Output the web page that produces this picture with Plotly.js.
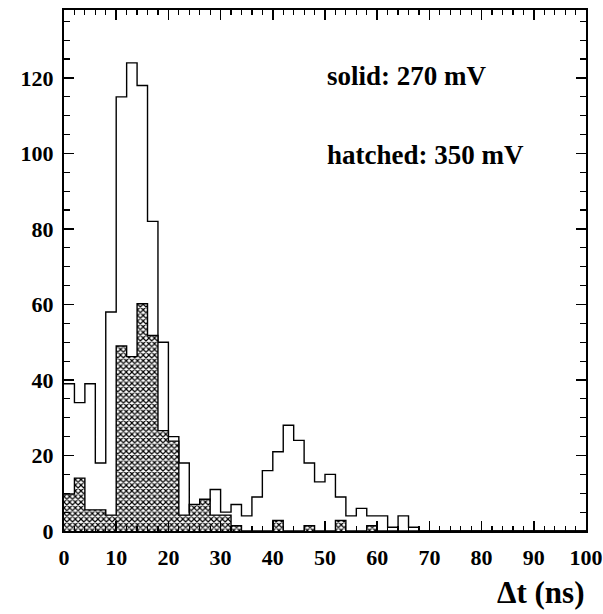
<!DOCTYPE html>
<html>
<head>
<meta charset="utf-8">
<script src="https://cdn.plot.ly/plotly-3.0.1.min.js"></script>
<style>html,body{margin:0;padding:0;background:#fff;}</style>
</head>
<body>
<div id="chart" style="width:603px;height:614px;"></div>
<script>
// Bin edges: 0..100 ns in 2 ns steps
const binWidth = 2;
const binEdges = Array.from({length: 51}, (_, i) => i * binWidth);

// solid: 270 mV (counts per 2 ns bin)
const solidCounts = [39, 34, 39, 18, 58, 115, 124, 118, 82, 50,
                     25, 18, 5, 8, 11, 5, 7, 4, 9, 16,
                     21, 28, 24, 18, 13, 15, 9, 4, 6, 4,
                     4, 1, 4, 1, 0, 0, 0, 0, 0, 0,
                     0, 0, 0, 0, 0, 0, 0, 0, 0, 0];

// hatched: 350 mV
const hatchedCounts = [9.8, 14.0, 5.6, 5.6, 4.2, 49.0, 46.2, 60.2, 51.8, 26.6,
                       23.8, 4.2, 7.0, 8.4, 4.2, 4.2, 1.4, 0, 0, 0,
                       2.8, 0, 0, 1.4, 0, 0, 2.8, 0, 0, 1.4,
                       0, 0, 0, 0, 0, 0, 0, 0, 0, 0,
                       0, 0, 0, 0, 0, 0, 0, 0, 0, 0];

const xTickVals = [0, 10, 20, 30, 40, 50, 60, 70, 80, 90, 100];
const yTickVals = [0, 20, 40, 60, 80, 100, 120];
const labels = {solid: "solid: 270 mV", hatched: "hatched: 350 mV", xTitle: "Δt (ns)"};

function stepY(counts) { return counts.concat([counts[counts.length - 1]]); }

const FONT = "Liberation Serif, Times New Roman, serif";

const traces = [
  {
    type: "scatter", mode: "lines", name: "solid",
    x: binEdges, y: stepY(solidCounts),
    line: {shape: "hv", color: "black", width: 1.4},
    hoverinfo: "skip", showlegend: false
  },
  {
    type: "scatter", mode: "lines", name: "hatched",
    x: binEdges, y: stepY(hatchedCounts),
    line: {shape: "hv", color: "black", width: 1.4},
    fill: "tozeroy",
    fillcolor: "white",
    fillpattern: {shape: "x", fgcolor: "black", bgcolor: "white", size: 4, solidity: 0.5, fillmode: "replace"},
    hoverinfo: "skip", showlegend: false
  }
];

const axisCommon = {
  showline: true, linecolor: "black", linewidth: 2, mirror: "allticks",
  ticks: "inside", tickcolor: "black", tickwidth: 1.5,
  showgrid: false, zeroline: false,
  tickfont: {family: FONT, size: 22, color: "black", weight: "bold"}
};

const layout = {
  width: 603, height: 614,
  margin: {l: 64, r: 17, t: 10, b: 83},
  paper_bgcolor: "white", plot_bgcolor: "white",
  showlegend: false,
  xaxis: Object.assign({}, axisCommon, {
    range: [0, 100], tickmode: "array", tickvals: xTickVals, ticktext: xTickVals.map(String),
    ticklen: 10, ticklabelstandoff: 6,
    minor: {ticks: "inside", ticklen: 5, dtick: 2, tickcolor: "black", tickwidth: 1.2, showgrid: false}
  }),
  yaxis: Object.assign({}, axisCommon, {
    range: [0, 138], tickmode: "array", tickvals: yTickVals, ticktext: yTickVals.map(String),
    ticklen: 10, ticklabelstandoff: 4,
    minor: {ticks: "inside", ticklen: 6, dtick: 5, tickcolor: "black", tickwidth: 1.2, showgrid: false}
  }),
  annotations: [
    {text: labels.solid, x: 50, y: 120.4, xref: "x", yref: "y", xanchor: "left", yanchor: "middle",
     showarrow: false, font: {family: FONT, size: 27, color: "black", weight: "bold"}},
    {text: labels.hatched, x: 50, y: 99.5, xref: "x", yref: "y", xanchor: "left", yanchor: "middle",
     showarrow: false, font: {family: FONT, size: 27, color: "black", weight: "bold"}},
    {text: labels.xTitle, x: 1, y: -0.119, xref: "paper", yref: "paper", xanchor: "right", yanchor: "middle",
     showarrow: false, font: {family: FONT, size: 31, color: "black", weight: "bold"}}
  ]
};

Plotly.newPlot("chart", traces, layout, {displayModeBar: false, staticPlot: true});
</script>
</body>
</html>
